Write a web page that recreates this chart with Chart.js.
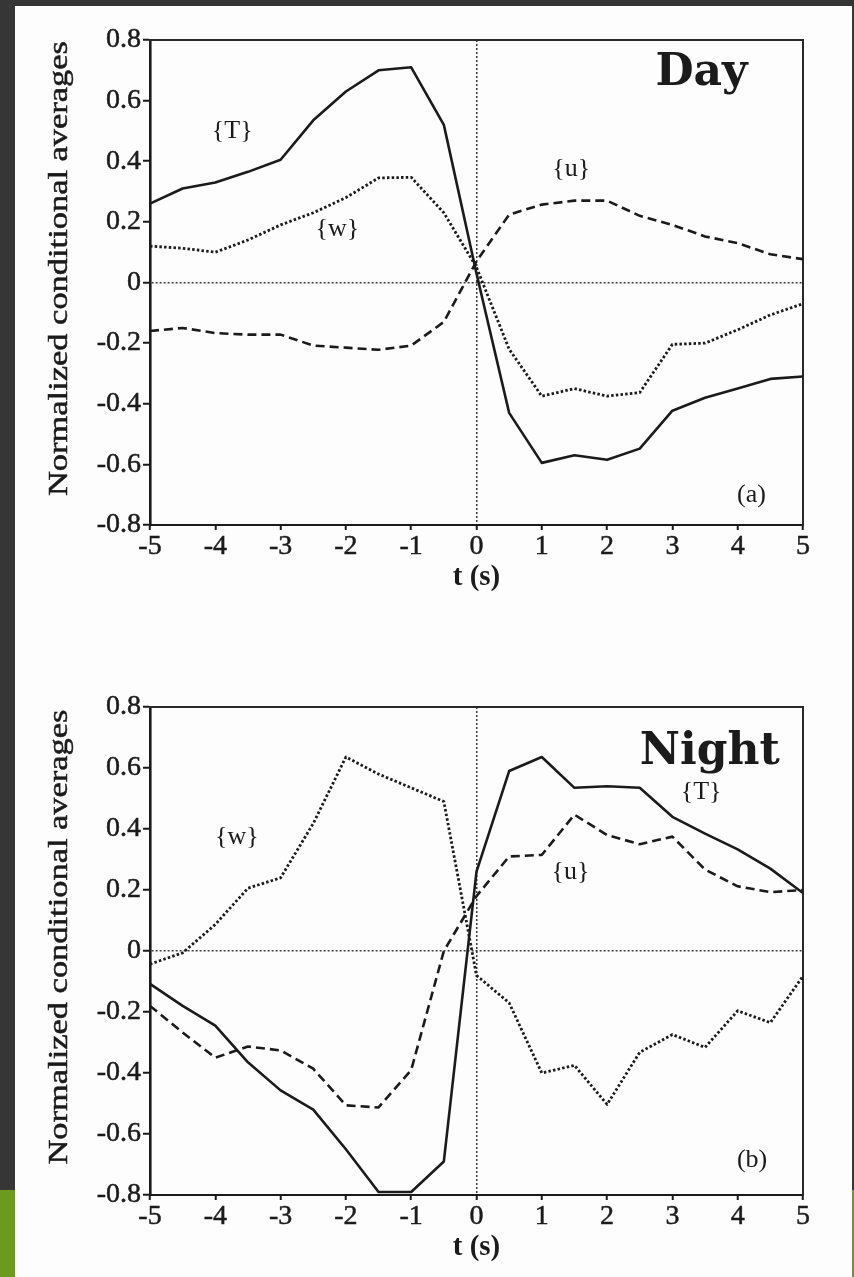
<!DOCTYPE html>
<html>
<head>
<meta charset="utf-8">
<script src="https://cdn.jsdelivr.net/npm/chart.js@4/dist/chart.umd.min.js"></script>
<style>
  html, body { margin: 0; padding: 0; }
  body { width: 854px; height: 1277px; background: #363636; position: relative; overflow: hidden; }
  #sheet { position: absolute; left: 15px; top: 6px; width: 837px; height: 1271px; background: #fdfdfd; }
  .bar { position: absolute; background: #6b9a1e; }
  canvas { position: absolute; left: 0; }
  #dayChart { top: 0; }
  #nightChart { top: 660px; }
</style>
</head>
<body>
<div id="sheet"></div>
<div class="bar" style="left:0;top:1190px;width:15px;height:87px"></div>
<div class="bar" style="left:852px;top:1190px;width:2px;height:87px"></div>
<canvas id="dayChart" width="854" height="640"></canvas>
<canvas id="nightChart" width="854" height="617"></canvas>
<script>
// lag time (s)
const times = [-5, -4.5, -4, -3.5, -3, -2.5, -2, -1.5, -1, -0.5, 0, 0.5, 1, 1.5, 2, 2.5, 3, 3.5, 4, 4.5, 5];

// (a) daytime conditional averages
const dayT = [0.26, 0.31, 0.33, 0.365, 0.405, 0.535, 0.63, 0.70, 0.71, 0.52, 0.03, -0.43, -0.595, -0.57, -0.585, -0.548, -0.423, -0.38, -0.35, -0.318, -0.31];
const dayU = [-0.16, -0.15, -0.167, -0.172, -0.172, -0.208, -0.215, -0.222, -0.208, -0.13, 0.07, 0.224, 0.257, 0.27, 0.27, 0.22, 0.19, 0.152, 0.13, 0.093, 0.077];
const dayW = [0.12, 0.113, 0.10, 0.14, 0.19, 0.23, 0.28, 0.345, 0.347, 0.23, 0.05, -0.22, -0.375, -0.35, -0.375, -0.363, -0.204, -0.20, -0.156, -0.107, -0.07];

// (b) nighttime conditional averages
const nightT = [-0.108, -0.18, -0.245, -0.365, -0.457, -0.52, -0.65, -0.79, -0.79, -0.69, 0.26, 0.59, 0.636, 0.535, 0.54, 0.535, 0.44, 0.385, 0.333, 0.27, 0.19];
const nightU = [-0.18, -0.267, -0.35, -0.313, -0.326, -0.386, -0.506, -0.513, -0.39, 0.0, 0.18, 0.31, 0.315, 0.447, 0.38, 0.35, 0.375, 0.267, 0.212, 0.193, 0.2];
const nightW = [-0.043, -0.006, 0.087, 0.206, 0.24, 0.418, 0.636, 0.58, 0.535, 0.49, -0.08, -0.17, -0.40, -0.375, -0.503, -0.332, -0.274, -0.316, -0.196, -0.235, -0.082];

const yTitle = 'Normalized conditional averages';
const xTitle = 't (s)';

const ink = '#1b1b1b';
const serif = "'Liberation Serif', 'Times New Roman', serif";

// free text inside the plot: curve names, panel tag, Day/Night
const notesPlugin = {
    id: 'notes',
    afterDraw(chart, args, opts) {
        const { ctx, chartArea, scales } = chart;
        ctx.save();
        ctx.fillStyle = ink;
        ctx.strokeStyle = ink;
        ctx.lineWidth = 0.5;

        // rotated y title, stretched along its length
        ctx.font = '28px ' + serif;
        let w = ctx.measureText(yTitle).width;
        ctx.translate(60, (chartArea.top + chartArea.bottom) / 2 - 14);
        ctx.rotate(-Math.PI / 2);
        ctx.scale(455 / w, 1);
        ctx.textAlign = 'center';
        ctx.textBaseline = 'middle';
        ctx.fillText(yTitle, 0, 0);
        ctx.strokeText(yTitle, 0, 0);
        ctx.restore();

        ctx.save();
        ctx.fillStyle = ink;
        opts.labels.forEach(l => {
            ctx.font = l.font;
            ctx.textAlign = l.align || 'center';
            ctx.textBaseline = l.baseline || 'middle';
            ctx.fillText(l.text, scales.x.getPixelForValue(l.t), scales.y.getPixelForValue(l.v));
        });
        ctx.restore();
    }
};

function series(vals) {
    return vals.map((v, i) => ({ x: times[i], y: v }));
}

function makeChart(id, T, U, W, pad, labels) {
    const onlyZero = c => (c.tick && c.tick.value === 0 ? '#3a3a3a' : 'transparent');
    const tickFont = { family: serif, size: 28 };
    new Chart(document.querySelector(id), {
        type: 'line',
        data: {
            datasets: [
                { label: '{T}', data: series(T), borderColor: ink, borderWidth: 2.6 },
                { label: '{u}', data: series(U), borderColor: ink, borderWidth: 2.6, borderDash: [9, 5] },
                { label: '{w}', data: series(W), borderColor: ink, borderWidth: 2.8, borderDash: [2.5, 2.2] }
            ]
        },
        options: {
            responsive: false,
            animation: false,
            layout: { padding: pad },
            elements: { point: { radius: 0 }, line: { tension: 0, borderJoinStyle: 'round' } },
            plugins: { legend: { display: false }, tooltip: { enabled: false }, notes: { labels: labels } },
            scales: {
                x: {
                    type: 'linear', min: -5, max: 5,
                    afterFit: s => { s.height = 75; },
                    ticks: { stepSize: 1, color: ink, padding: 0, font: tickFont, textStrokeColor: ink, textStrokeWidth: 0.5 },
                    grid: { color: onlyZero, lineWidth: 1.5, tickColor: ink, tickLength: 5, tickWidth: 2 },
                    border: { color: ink, width: 2, dash: [2, 2] },
                    title: { display: true, text: xTitle, color: ink, padding: { top: 0, bottom: 5 }, font: { family: serif, size: 29, weight: 'bold' } }
                },
                y: {
                    min: -0.8, max: 0.8,
                    afterFit: s => { s.width = 150; },
                    ticks: { stepSize: 0.2, color: ink, padding: 2, font: tickFont, textStrokeColor: ink, textStrokeWidth: 0.5 },
                    grid: { color: onlyZero, lineWidth: 1.5, tickColor: ink, tickLength: 7, tickWidth: 2 },
                    border: { color: ink, width: 2.6, dash: [2, 2] }
                },
                x2: {
                    type: 'linear', position: 'top', min: -5, max: 5,
                    afterFit: s => { s.height = 0; },
                    ticks: { display: false }, grid: { display: false },
                    border: { color: '#2a2a2a', width: 2 }
                },
                y2: {
                    position: 'right', min: -0.8, max: 0.8,
                    afterFit: s => { s.width = 0; },
                    ticks: { display: false }, grid: { display: false },
                    border: { color: '#2a2a2a', width: 2 }
                }
            }
        },
        plugins: [notesPlugin]
    });
}

const noteFont = '26px ' + serif;
const tagFont = 'bold 44px "DejaVu Serif", serif';

makeChart('#dayChart', dayT, dayU, dayW,
    { left: 0, right: 51, top: 40, bottom: 40 },
    [
        { text: '{T}', t: -3.74, v: 0.50, font: noteFont },
        { text: '{w}', t: -2.13, v: 0.175, font: noteFont },
        { text: '{u}', t: 1.45, v: 0.373, font: noteFont },
        { text: '(a)', t: 4.21, v: -0.70, font: noteFont },
        { text: 'Day', t: 2.74, v: 0.653, font: tagFont, align: 'left', baseline: 'alphabetic' }
    ]);

makeChart('#nightChart', nightT, nightU, nightW,
    { left: 0, right: 51, top: 47, bottom: 7 },
    [
        { text: '{w}', t: -3.67, v: 0.372, font: noteFont },
        { text: '{u}', t: 1.44, v: 0.258, font: noteFont },
        { text: '{T}', t: 3.44, v: 0.52, font: noteFont },
        { text: '(b)', t: 4.22, v: -0.685, font: noteFont },
        { text: 'Night', t: 2.50, v: 0.613, font: tagFont, align: 'left', baseline: 'alphabetic' }
    ]);
</script>
</body>
</html>
